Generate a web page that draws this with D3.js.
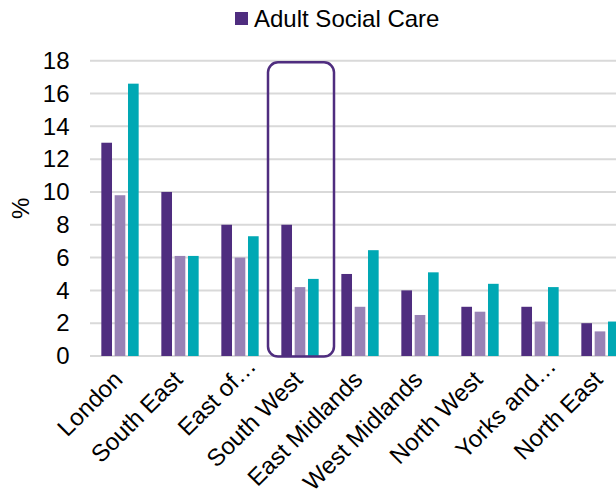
<!DOCTYPE html>
<html>
<head>
<meta charset="utf-8">
<script src="https://cdn.jsdelivr.net/npm/d3@7"></script>
<style>
  html, body { margin: 0; padding: 0; background: #ffffff; }
  svg { display: block; font-family: "Liberation Sans", Arial, sans-serif; }
</style>
</head>
<body>
<svg id="chart" width="616" height="492"></svg>
<script>
// Regional percentages, three measures per region
const regions = ["London", "South East", "East of…", "South West", "East Midlands",
                 "West Midlands", "North West", "Yorks and…", "North East"];
const seriesKeys = ["Adult Social Care", "Series 2", "Series 3"];
const adultSocialCare = [13, 10, 8, 8, 5, 4, 3, 3, 2];
const series2 = [9.8, 6.1, 6.0, 4.2, 3.0, 2.5, 2.7, 2.1, 1.5];
const series3 = [16.6, 6.1, 7.3, 4.7, 6.45, 5.1, 4.4, 4.2, 2.1];
const yTicks = [0, 2, 4, 6, 8, 10, 12, 14, 16, 18];
const legendKeys = ["Adult Social Care"];
const highlightRegion = "South West";
const highlightTop = 17.9;

const colors = { "Adult Social Care": "#4f2d7f", "Series 2": "#9882b5", "Series 3": "#00a8b4" };
const valuesByKey = { "Adult Social Care": adultSocialCare, "Series 2": series2, "Series 3": series3 };

const svg = d3.select("#chart");

const x = d3.scaleBand().domain(regions).range([90, 630])
  .paddingInner(0.378).paddingOuter(0.189);
const xs = d3.scaleBand().domain(seriesKeys).range([0, x.bandwidth()])
  .paddingInner(0.2).paddingOuter(0);
const y = d3.scaleLinear().domain([0, 18]).range([356, 60.7]);

// Gridlines
svg.append("g").selectAll("line").data(yTicks).join("line")
  .attr("x1", 90).attr("x2", 616)
  .attr("y1", d => y(d)).attr("y2", d => y(d))
  .attr("stroke", "#d9d9d9").attr("stroke-width", 2);

// Y axis labels
const yAxis = d3.axisLeft(y).tickValues(yTicks).tickSize(0).tickPadding(0);
svg.append("g").attr("transform", "translate(69.5,0)").call(yAxis)
  .call(g => g.select(".domain").remove())
  .call(g => g.selectAll("text").attr("font-size", 24).attr("fill", "#000")
    .attr("font-family", "'Liberation Sans', Arial, sans-serif"));

svg.append("text")
  .attr("transform", `translate(29,${(y(0) + y(18)) / 2}) rotate(-90)`)
  .attr("text-anchor", "middle")
  .attr("font-size", 24).attr("fill", "#000").text("%");

// Bars
const rows = regions.map((r, i) => ({ region: r, vals: seriesKeys.map(k => ({ key: k, value: valuesByKey[k][i] })) }));
svg.append("g").selectAll("g").data(rows).join("g")
  .attr("transform", d => `translate(${x(d.region)},0)`)
  .selectAll("rect").data(d => d.vals).join("rect")
  .attr("x", d => xs(d.key))
  .attr("width", xs.bandwidth())
  .attr("y", d => y(d.value))
  .attr("height", d => y(0) - y(d.value))
  .attr("fill", d => colors[d.key]);

// Highlight frame around one region
const hc = x(highlightRegion) + x.bandwidth() / 2;
svg.append("rect")
  .attr("x", hc - 32).attr("width", 66)
  .attr("y", y(highlightTop)).attr("height", y(0) + 0.5 - y(highlightTop))
  .attr("rx", 10).attr("ry", 10)
  .attr("fill", "none").attr("stroke", "#4f2d7f").attr("stroke-width", 2.5);

// Category labels, rotated
svg.append("g").selectAll("text").data(regions).join("text")
  .attr("transform", d => `translate(${x(d) + x.bandwidth() / 2 + 4},381) rotate(-45)`)
  .attr("text-anchor", "end")
  .attr("dx", d => d.endsWith("…") ? 19 : 0)
  .attr("font-size", 24).attr("fill", "#000")
  .text(d => d);

// Legend
const lg = svg.append("g").attr("transform", "translate(235,12)");
const item = lg.selectAll("g").data(legendKeys).join("g");
item.append("rect").attr("width", 13).attr("height", 13).attr("fill", d => colors[d]);
item.append("text").attr("x", 19).attr("y", 14.7)
  .attr("font-size", 24).attr("fill", "#000").text(d => d);
</script>
</body>
</html>
